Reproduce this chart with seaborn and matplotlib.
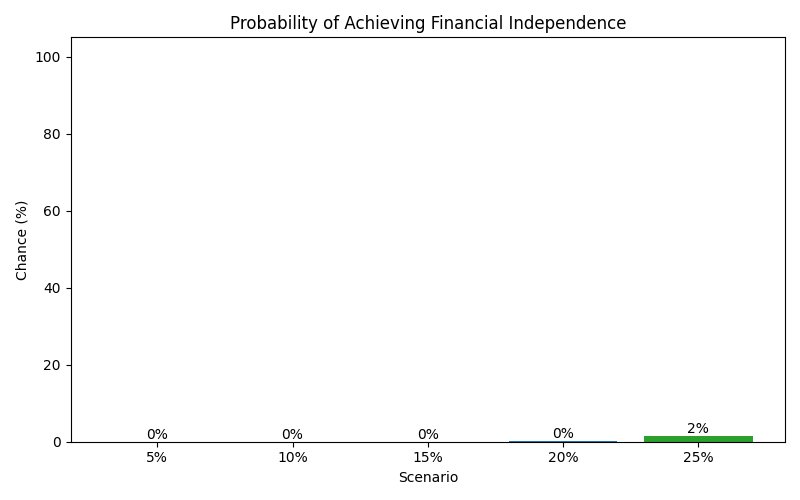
import matplotlib
matplotlib.use("Agg")
import matplotlib.pyplot as plt
import seaborn as sns
import pandas as pd

scenarios = ["5%", "10%", "15%", "20%", "25%"]
chances = [0.0, 0.0, 0.0, 0.3, 1.5]
colors = ["tab:red", "tab:orange", "tab:purple", "tab:blue", "tab:green"]

df = pd.DataFrame({"Scenario": scenarios, "Chance": chances})

fig, ax = plt.subplots(figsize=(8, 5), dpi=100)
sns.barplot(data=df, x="Scenario", y="Chance", hue="Scenario",
            palette=colors, legend=False, width=0.8, ax=ax, saturation=1)

# 막대 위 라벨
for i, v in enumerate(chances):
    ax.text(i, v, f"{v:.0f}%", ha="center", va="bottom", fontsize=10)

ax.set_xlim(-0.64, len(scenarios) - 1 + 0.64)
ax.set_ylim(0, 105)
ax.set_title("Probability of Achieving Financial Independence")
ax.set_xlabel("Scenario")
ax.set_ylabel("Chance (%)")
plt.tight_layout()
plt.savefig("out.png")
